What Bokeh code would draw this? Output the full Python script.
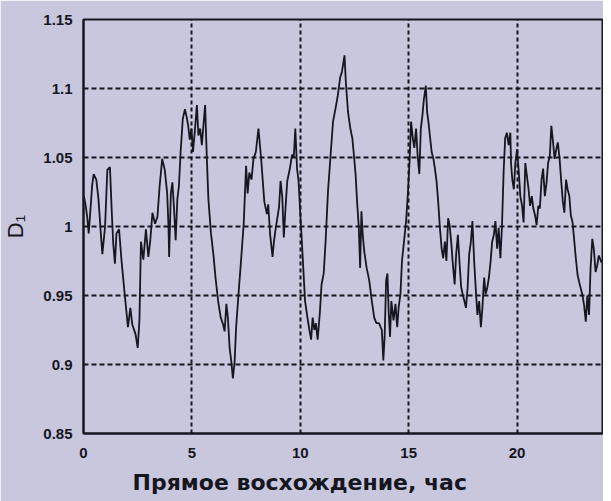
from bokeh.plotting import figure
from bokeh.models import FixedTicker, Range1d, Title
from bokeh.embed import file_html
from bokeh.resources import INLINE

# Right ascension, hours
hours = [0.02, 0.10, 0.17, 0.24, 0.32, 0.40, 0.47, 0.59, 0.69, 0.80, 0.87, 0.995,
         1.10, 1.22, 1.30, 1.37, 1.45, 1.52, 1.64, 1.75, 1.90, 2.05, 2.16, 2.25,
         2.40, 2.50, 2.58, 2.65, 2.76, 2.88, 2.99, 3.08, 3.18, 3.30, 3.41, 3.51,
         3.63, 3.75, 3.86, 3.92, 3.95, 4.03, 4.10, 4.18, 4.25, 4.33, 4.40, 4.48,
         4.58, 4.68, 4.75, 4.83, 4.90, 4.98, 5.05, 5.13, 5.23, 5.30, 5.38, 5.46,
         5.53, 5.61, 5.69, 5.76, 5.88, 5.99, 6.09, 6.21, 6.33, 6.44, 6.51, 6.59,
         6.66, 6.74, 6.82, 6.89, 6.97, 7.04, 7.15, 7.27, 7.39, 7.50, 7.57, 7.65,
         7.75, 7.84, 7.95, 8.07, 8.19, 8.34, 8.46, 8.52, 8.61, 8.72, 8.79, 8.87,
         8.94, 9.02, 9.09, 9.17, 9.24, 9.32, 9.40, 9.52, 9.62, 9.70, 9.77, 9.85,
         9.92, 10.00, 10.07, 10.15, 10.22, 10.33, 10.42, 10.50, 10.57, 10.65, 10.72, 10.80,
         10.90, 10.98, 11.08, 11.17, 11.28, 11.39, 11.51, 11.63, 11.73, 11.84, 11.92, 12.00,
         12.04, 12.10, 12.20, 12.31, 12.40, 12.46, 12.55, 12.62, 12.70, 12.76, 12.82, 12.88,
         12.95, 13.06, 13.18, 13.30, 13.41, 13.51, 13.63, 13.76, 13.83, 13.89, 13.96, 14.02,
         14.08, 14.14, 14.20, 14.30, 14.39, 14.47, 14.54, 14.62, 14.69, 14.79, 14.88, 14.96,
         15.04, 15.11, 15.19, 15.26, 15.34, 15.41, 15.49, 15.56, 15.63, 15.70, 15.79, 15.85,
         15.91, 15.99, 16.06, 16.14, 16.21, 16.29, 16.36, 16.44, 16.52, 16.59, 16.67, 16.74,
         16.82, 16.89, 16.97, 17.04, 17.12, 17.19, 17.27, 17.34, 17.42, 17.49, 17.57, 17.64,
         17.72, 17.79, 17.87, 17.94, 18.02, 18.10, 18.17, 18.25, 18.33, 18.40, 18.48, 18.55,
         18.63, 18.70, 18.78, 18.85, 18.93, 19.00, 19.08, 19.15, 19.23, 19.30, 19.38, 19.45,
         19.53, 19.61, 19.69, 19.72, 19.78, 19.85, 19.92, 20.00, 20.08, 20.15, 20.23, 20.30,
         20.38, 20.45, 20.53, 20.60, 20.68, 20.75, 20.83, 20.90, 20.98, 21.05, 21.13, 21.20,
         21.28, 21.36, 21.43, 21.51, 21.58, 21.66, 21.73, 21.81, 21.88, 21.96, 22.03, 22.11,
         22.18, 22.26, 22.33, 22.41, 22.48, 22.56, 22.63, 22.71, 22.79, 22.86, 22.94, 23.02,
         23.09, 23.17, 23.24, 23.32, 23.39, 23.47, 23.54, 23.62, 23.70, 23.77, 23.89]

d1 = [1.022, 1.015, 1.007, 0.995, 1.012, 1.030, 1.038, 1.034, 1.020, 0.995, 0.980, 1.000,
      1.041, 1.043, 1.012, 0.988, 0.973, 0.995, 0.998, 0.976, 0.951, 0.927, 0.941, 0.929,
      0.922, 0.912, 0.932, 0.989, 0.976, 0.998, 0.978, 0.990, 1.010, 1.002, 1.007, 1.029,
      1.049, 1.041, 1.024, 1.000, 0.978, 1.024, 1.032, 1.012, 0.990, 1.020, 1.029, 1.054,
      1.078, 1.085, 1.080, 1.073, 1.063, 1.071, 1.054, 1.068, 1.088, 1.066, 1.071, 1.059,
      1.073, 1.088, 1.049, 1.020, 0.995, 0.980, 0.963, 0.946, 0.934, 0.929, 0.924, 0.944,
      0.934, 0.912, 0.902, 0.890, 0.902, 0.927, 0.951, 0.976, 1.002, 1.044, 1.024, 1.039,
      1.034, 1.049, 1.054, 1.071, 1.050, 1.018, 1.009, 1.016, 0.994, 0.978, 0.990, 0.999,
      1.006, 1.014, 1.033, 1.021, 0.992, 1.014, 1.033, 1.042, 1.052, 1.050, 1.071, 1.042,
      1.033, 1.009, 0.990, 0.966, 0.946, 0.934, 0.925, 0.918, 0.934, 0.925, 0.930, 0.918,
      0.937, 0.958, 0.966, 0.990, 1.026, 1.050, 1.076, 1.086, 1.095, 1.108, 1.112, 1.120,
      1.124, 1.105, 1.083, 1.071, 1.064, 1.054, 1.038, 1.018, 0.999, 0.970, 1.011, 0.994,
      0.982, 0.970, 0.961, 0.946, 0.934, 0.930, 0.930, 0.925, 0.903, 0.920, 0.961, 0.966,
      0.937, 0.920, 0.946, 0.932, 0.944, 0.927, 0.942, 0.951, 0.975, 0.990, 1.004, 1.023,
      1.047, 1.076, 1.064, 1.057, 1.071, 1.052, 1.038, 1.071, 1.080, 1.092, 1.102, 1.083,
      1.076, 1.064, 1.054, 1.049, 1.042, 1.032, 1.018, 0.999, 0.984, 0.977, 0.989, 0.975,
      1.006, 1.001, 0.987, 0.972, 0.958, 0.980, 0.994, 0.975, 0.956, 0.951, 0.946, 0.941,
      0.956, 0.980, 0.989, 1.004, 0.975, 0.953, 0.936, 0.946, 0.927, 0.941, 0.963, 0.951,
      0.956, 0.963, 0.975, 0.989, 0.994, 1.004, 0.984, 0.999, 0.977, 0.999, 1.040, 1.064,
      1.068, 1.059, 1.068, 1.046, 1.034, 1.027, 1.046, 1.056, 1.039, 1.022, 1.015, 1.003,
      1.046, 1.037, 1.027, 1.015, 1.022, 1.013, 1.008, 1.001, 1.015, 1.013, 1.034, 1.042,
      1.022, 1.032, 1.046, 1.051, 1.073, 1.061, 1.049, 1.056, 1.061, 1.049, 1.034, 1.018,
      1.010, 1.034, 1.027, 1.022, 1.008, 1.003, 0.991, 0.977, 0.965, 0.960, 0.955, 0.950,
      0.943, 0.931, 0.950, 0.936, 0.970, 0.991, 0.984, 0.967, 0.972, 0.979, 0.974]

x_ticks = [0, 5, 10, 15, 20]
y_ticks = [0.85, 0.9, 0.95, 1.0, 1.05, 1.1, 1.15]
y_tick_labels = ["0.85", "0.9", "0.95", "1", "1.05", "1.1", "1.15"]
x_title = "Прямое восхождение, час"
y_title = "D\u2081"

BG = "#c9c7de"
INK = "#16161f"

p = figure(width=603, height=501, output_backend="svg", toolbar_location=None,
           x_range=Range1d(0, 23.94), y_range=Range1d(0.85, 1.15),
           min_border_left=73, min_border_right=1, min_border_top=19,
           min_border_bottom=64)
p.background_fill_color = BG
p.border_fill_color = BG
p.outline_line_color = INK
p.outline_line_width = 2

p.line(hours, d1, line_color=INK, line_width=1.8)

for ax in (p.xaxis[0], p.yaxis[0]):
    ax.axis_line_color = INK
    ax.axis_line_width = 2
    ax.major_tick_line_color = None
    ax.minor_tick_line_color = None
    ax.major_label_text_font = "Liberation Sans"
    ax.major_label_text_font_style = "bold"
    ax.major_label_text_font_size = "15px"
    ax.major_label_text_color = INK

p.xaxis.ticker = FixedTicker(ticks=x_ticks)
p.xaxis.major_label_standoff = 8
p.yaxis.ticker = FixedTicker(ticks=y_ticks)
p.yaxis.major_label_overrides = {t: s for t, s in zip(y_ticks, y_tick_labels)}
p.yaxis.major_label_standoff = 5

p.yaxis.axis_label = y_title
p.yaxis.axis_label_text_font = "Liberation Sans"
p.yaxis.axis_label_text_font_style = "normal"
p.yaxis.axis_label_text_font_size = "22px"
p.yaxis.axis_label_text_color = INK
p.yaxis.axis_label_standoff = 12

p.xgrid.grid_line_color = INK
p.xgrid.grid_line_width = 2
p.xgrid.grid_line_dash = "4 3"
p.ygrid.grid_line_color = INK
p.ygrid.grid_line_width = 1.8
p.ygrid.grid_line_dash = "5 3"

p.add_layout(Title(text=x_title, align="left", offset=49, standoff=14,
                   text_font="DejaVu Sans", text_font_style="bold",
                   text_font_size="22px", text_color=INK), "below")

open("out.html", "w").write(file_html(p, INLINE))
